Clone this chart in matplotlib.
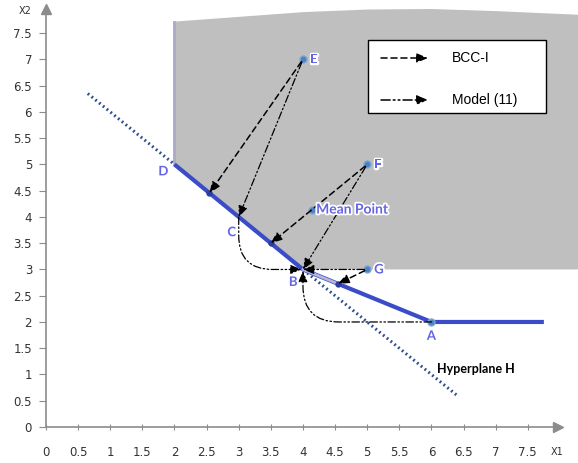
import matplotlib
matplotlib.use("Agg")
import matplotlib.pyplot as plt
from matplotlib.patches import Polygon, Rectangle
import matplotlib.patheffects as pe

# ---------------- data ----------------
dmu_names = ["A", "B", "C", "D", "E", "F", "G"]
dmu_x1 = [6, 4, 3, 2, 4, 5, 5]
dmu_x2 = [2, 3, 4, 5, 7, 5, 3]
mean_x1, mean_x2 = 4.14, 4.14

frontier_x1 = [2, 3, 4, 6, 7.75]
frontier_x2 = [5, 4, 3, 2, 2]

hyper_x1 = [0.65, 6.4]
hyper_x2 = [6.35, 0.6]

# shaded region (boundary)
region_x1 = [2, 3, 4, 5, 6, 7, 8.3, 8.3, 4, 2]
region_x2 = [7.72, 7.81, 7.9, 7.95, 7.96, 7.92, 7.85, 3, 3, 5]

# BCC-I projections
bcc_from = ["E", "F", "G"]
bcc_to_x1 = [2.545, 3.5, 4.545]
bcc_to_x2 = [4.455, 3.5, 2.727]

# Model (11) projections
m11_from = ["E", "F", "G"]
m11_to = ["C", "B", "B"]
m11_curve_from = ["C", "A"]
m11_curve_to = ["B", "B"]

xticks = [0, 0.5, 1, 1.5, 2, 2.5, 3, 3.5, 4, 4.5, 5, 5.5, 6, 6.5, 7, 7.5]
yticks = [0, 0.5, 1, 1.5, 2, 2.5, 3, 3.5, 4, 4.5, 5, 5.5, 6, 6.5, 7, 7.5]

# ---------------- figure ----------------
W, H = 578, 463
fig = plt.figure(figsize=(W / 100, H / 100), dpi=100)
ax = fig.add_axes([46 / W, 1 - 427 / H, (558 - 46) / W, (427 - 9) / H])
ax.set_xlim(0, 7.97)
ax.set_ylim(0, 7.96)

pt = dict(zip(dmu_names, zip(dmu_x1, dmu_x2)))

AXC = "#8c8c8c"
LBL = "#6464e6"
BLUE = "#3b4cc8"

# shaded region
ax.add_patch(Polygon(list(zip(region_x1, region_x2)), closed=True,
                     facecolor="#bfbfbf", edgecolor="none", zorder=0, clip_on=False))
ax.plot([region_x1[0], region_x1[-1]], [region_x2[0], region_x2[-1]],
        color="#a9a9cc", lw=2, zorder=1)

# hyperplane
ax.plot(hyper_x1, hyper_x2, color="#2f4f8f", lw=2.2, ls=(0, (0.6, 1.0)), zorder=2)

# frontier
ax.plot(frontier_x1, frontier_x2, color=BLUE, lw=3, zorder=3, solid_capstyle="butt")
ax.plot([pt["B"][0], bcc_to_x1[2]], [pt["B"][1], bcc_to_x2[2]],
        color="#b4b6d6", lw=2, zorder=3.5)

# projection point markers
ax.plot(bcc_to_x1, bcc_to_x2, "o", color="#2c3c9c", ms=3.5, zorder=4)

# DMU markers
for n in ["E", "F", "G", "A"]:
    ax.plot(*pt[n], "o", color="#4f81bd", mec="#7aa6d6", ms=5, zorder=6)
ax.plot(mean_x1, mean_x2, "o", color="#4f81bd", mec="#7aa6d6", ms=5, zorder=6)

# labels
halo = [pe.withStroke(linewidth=2.5, foreground="white")]
lab_off = {"E": (5, 0, "left", "center"), "F": (5, 0, "left", "center"),
           "G": (5, 0, "left", "center"), "C": (-5, -11, "center", "center"),
           "D": (-8, -5, "center", "center"), "B": (-7, -9, "center", "center"),
           "A": (0, -10, "center", "center")}
for n, (dx, dy, ha, va) in lab_off.items():
    ax.annotate(n, pt[n], xytext=(dx, dy), textcoords="offset points",
                ha=ha, va=va, color=LBL, fontsize=9.5, fontweight="bold",
                family="Lato", path_effects=halo, zorder=8)
ax.annotate("Mean Point", (mean_x1, mean_x2), xytext=(3, 0), textcoords="offset points",
            ha="left", va="center", color=LBL, fontsize=10, fontweight="bold",
            family="Lato", path_effects=halo, zorder=8)

ax.text(6.08, 1.1, "Hyperplane H", fontsize=9, fontweight="bold", family="Lato",
        ha="left", va="center", color="black", zorder=8)

# arrows
DASH = (0, (4, 2.5))
DDOT = (0, (6, 2, 1.2, 2, 1.2, 2))
head = "-|>,head_length=0.6,head_width=0.25"
MS = 11

for f, tx, ty in zip(bcc_from, bcc_to_x1, bcc_to_x2):
    ax.annotate("", xy=(tx, ty), xytext=pt[f],
                arrowprops=dict(arrowstyle=head, ls=DASH, lw=1.1, color="black",
                                mutation_scale=MS, shrinkA=2, shrinkB=0), zorder=7)
for f, t in zip(m11_from, m11_to):
    ax.annotate("", xy=pt[t], xytext=pt[f],
                arrowprops=dict(arrowstyle=head, ls=DDOT, lw=0.9, color="black",
                                mutation_scale=MS, shrinkA=2, shrinkB=0), zorder=7)
curve_styles = {"C": "angle,angleA=-90,angleB=0,rad=34",
                "A": "angle,angleA=0,angleB=90,rad=36"}
for f, t in zip(m11_curve_from, m11_curve_to):
    ax.annotate("", xy=pt[t], xytext=pt[f],
                arrowprops=dict(arrowstyle=head, ls=DDOT, lw=0.9, color="black",
                                mutation_scale=MS, shrinkA=0, shrinkB=1,
                                connectionstyle=curve_styles[f]), zorder=7)

# legend box (manual)
def px2ax(x, y):
    return ((x - 46) / (558 - 46), (427 - y) / (427 - 9))

x0, y0 = px2ax(368, 113)
x1, y1 = px2ax(546, 40)
ax.add_patch(Rectangle((x0, y0), x1 - x0, y1 - y0, transform=ax.transAxes,
                       facecolor="white", edgecolor="black", lw=1, zorder=9))
for ls_, ytxt, label in [(DASH, 58, "BCC-I"), (DDOT, 100, "Model (11)")]:
    a = px2ax(381, ytxt)
    b = px2ax(428, ytxt)
    ax.annotate("", xy=b, xytext=a, xycoords="axes fraction", textcoords="axes fraction",
                arrowprops=dict(arrowstyle=head, ls=ls_, lw=1.1, color="black",
                                mutation_scale=MS, shrinkA=0, shrinkB=0), zorder=10)
    tx, ty = px2ax(452, ytxt)
    ax.text(tx, ty, label, transform=ax.transAxes, fontsize=10, family="Liberation Sans",
            ha="left", va="center", zorder=10)

# axes styling
for s in ["top", "right"]:
    ax.spines[s].set_visible(False)
for s in ["left", "bottom"]:
    ax.spines[s].set_color(AXC)
    ax.spines[s].set_linewidth(1.2)
ax.plot(1, 0, ">", transform=ax.transAxes, color=AXC, ms=7, clip_on=False, zorder=10)
ax.plot(0, 1, "^", transform=ax.transAxes, color=AXC, ms=7, clip_on=False, zorder=10)

fmt = lambda v: ("%g" % v)
ax.set_xticks(xticks)
ax.set_xticklabels([fmt(v) for v in xticks])
ax.set_yticks(yticks)
ax.set_yticklabels([fmt(v) for v in yticks])
ax.tick_params(axis="x", direction="inout", length=4, pad=12, colors=AXC,
               labelcolor="#333333", labelsize=8.5)
ax.tick_params(axis="y", direction="out", length=5, pad=5, colors=AXC,
               labelcolor="#333333", labelsize=8.5)

fig.text(557 / W, 1 - 452 / H, "X1", fontsize=7, color="#333333", ha="center", va="center")
fig.text(25 / W, 1 - 11 / H, "X2", fontsize=7, color="#333333", ha="center", va="center")

fig.savefig("out.png", dpi=100)
